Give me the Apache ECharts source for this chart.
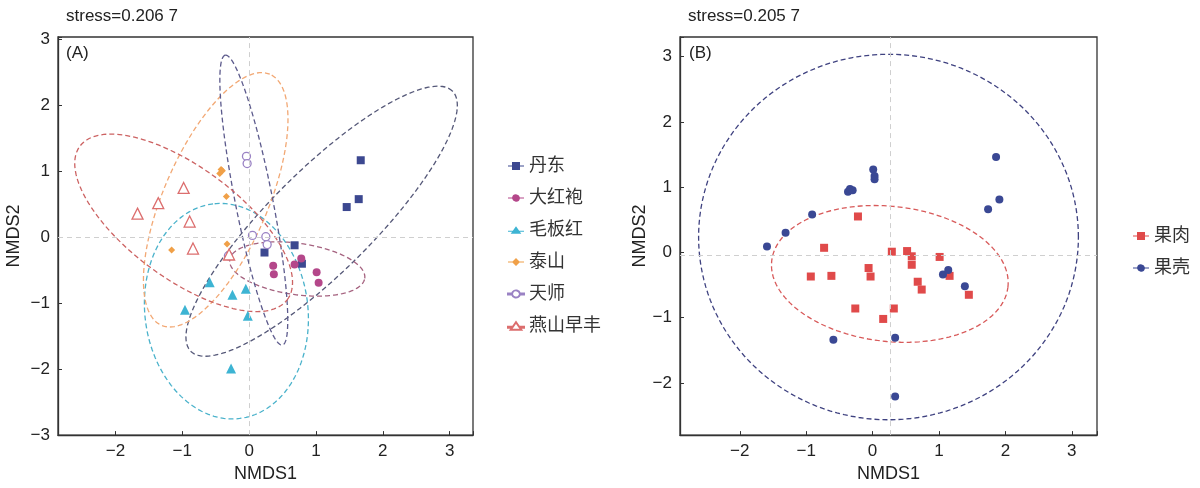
<!DOCTYPE html>
<html><head><meta charset="utf-8">
<script src="https://cdn.jsdelivr.net/npm/echarts@6/dist/echarts.min.js"></script>
<style>html,body{margin:0;padding:0;background:#fff}#c{width:1200px;height:488px}</style>
</head><body><div id="c"></div>
<script>
// ---------- Panel A: points (NMDS1, NMDS2) ----------
const groupsA = ['丹东', '大红袍', '毛板红', '泰山', '天师', '燕山早丰'];
const dandong   = [[1.67,1.17],[1.64,0.58],[1.46,0.46],[0.68,-0.12],[0.23,-0.23],[0.79,-0.40]];
const dahongpao = [[0.78,-0.32],[0.68,-0.41],[0.36,-0.43],[0.37,-0.56],[1.01,-0.53],[1.04,-0.69]];
const maobanhong= [[-0.59,-0.68],[-0.25,-0.87],[-0.05,-0.78],[-0.96,-1.10],[-0.02,-1.19],[-0.27,-1.99]];
const taishan   = [[-0.44,0.97],[-0.40,1.01],[-0.42,1.03],[-0.34,0.62],[-1.16,-0.19],[-0.33,-0.10]];
const tianshi   = [[-0.04,1.23],[-0.03,1.12],[0.05,0.03],[0.25,0.01],[0.27,-0.11],[-0.31,-0.28]];
const yanshan   = [[-0.98,0.75],[-1.36,0.52],[-1.67,0.36],[-0.89,0.24],[-0.84,-0.17],[-0.30,-0.26]];
// ellipse parameters: centre x, centre y, semi-major, semi-minor, angle (deg)
const ellA_cx  = [1.085, 0.72, -0.34, -0.50, 0.07, -0.98];
const ellA_cy  = [0.245, -0.48, -1.12, 0.57, 0.565, 0.22];
const ellA_a   = [2.78, 1.02, 1.64, 2.07, 2.24, 1.94];
const ellA_b   = [0.77, 0.39, 1.22, 0.78, 0.28, 0.84];
const ellA_ang = [45.3, -8, 97, 67, 101, -37];

// ---------- Panel B ----------
const groupsB = ['果肉', '果壳'];
const guorou = [[-0.22,0.55],[-0.73,0.07],[0.29,0.01],[0.52,0.02],[0.59,-0.06],[0.59,-0.19],[1.01,-0.07],
  [-0.06,-0.24],[-0.93,-0.37],[-0.62,-0.36],[-0.03,-0.37],[0.68,-0.45],[0.74,-0.57],[1.16,-0.36],
  [1.45,-0.65],[-0.26,-0.86],[0.32,-0.86],[0.16,-1.02]];
const guoke = [[-1.59,0.09],[-1.31,0.30],[-0.91,0.58],[-0.37,0.93],[-0.34,0.97],[-0.30,0.95],[0.01,1.27],
  [0.03,1.17],[0.03,1.12],[1.86,1.46],[1.91,0.81],[1.74,0.66],[1.06,-0.34],[1.14,-0.27],[1.39,-0.52],
  [-0.59,-1.34],[0.34,-1.31],[0.34,-2.21]];
const ellB_cx  = [0.26, 0.24];
const ellB_cy  = [-0.33, 0.235];
const ellB_a   = [1.79, 2.86];
const ellB_b   = [1.035, 2.80];
const ellB_ang = [-6.5, 0];
const refB_x = 0.26, refB_y = -0.035;

const FONT = '"Liberation Sans", Arial, "Noto Sans CJK SC", sans-serif';
const chart = echarts.init(document.getElementById('c'), null, {renderer: 'canvas'});

function tickFmt(v) {
  if (Math.abs(v - Math.round(v)) > 1e-6) return '';
  const r = Math.round(v);
  return r < 0 ? '\u2212' + Math.abs(r) : String(r);
}
function valAxis(grid, min, max, name, gap, isY) {
  return {
    type: 'value', gridIndex: grid, min: min, max: max,
    name: name, nameLocation: 'middle', nameGap: gap,
    nameTextStyle: {fontSize: 18, color: '#222', fontFamily: FONT},
    axisLine: {show: true, onZero: false, lineStyle: {color: '#333', width: 1.3}},
    axisTick: {show: true, inside: true, length: 4, lineStyle: {color: '#333'}},
    axisLabel: {formatter: tickFmt, fontSize: 17, color: '#222', fontFamily: FONT, margin: 8, showMinLabel: true, showMaxLabel: true},
    splitLine: {show: false}
  };
}
function ellipseSeries(grid, name, cx, cy, a, b, ang, color) {
  return {
    type: 'custom', name: name, xAxisIndex: grid, yAxisIndex: grid, silent: true, z: 1,
    data: [[cx, cy, a, b, ang]],
    encode: {x: 0, y: 1},
    renderItem: function (params, api) {
      const X = api.value(0), Y = api.value(1), A = api.value(2), B = api.value(3);
      const t = api.value(4) * Math.PI / 180;
      const pts = [];
      for (let i = 0; i <= 160; i++) {
        const u = i / 160 * 2 * Math.PI;
        const ex = A * Math.cos(u), ey = B * Math.sin(u);
        pts.push(api.coord([X + ex * Math.cos(t) - ey * Math.sin(t), Y + ex * Math.sin(t) + ey * Math.cos(t)]));
      }
      return {type: 'polyline', shape: {points: pts},
        style: {stroke: color, fill: null, lineWidth: 1.3, lineDash: [5, 3]}};
    }
  };
}
function scatter(grid, name, data, symbol, size, color, hollow) {
  return {
    type: 'scatter', name: name, xAxisIndex: grid, yAxisIndex: grid, z: 3,
    data: data, symbol: symbol, symbolSize: size,
    itemStyle: hollow ? {color: '#fff', borderColor: color, borderWidth: 1.3, opacity: 1}
                      : {color: color, opacity: 1},
    emphasis: {disabled: true}
  };
}
const refLine = {color: '#cfcfcf', width: 1, type: [5, 4]};

const colA = ['#3c4890', '#b4478a', '#3db4d3', '#f0a048', '#9a82c4', '#dc6e6e'];
const ellColA = ['#555878', '#a5627f', '#4ab2cb', '#f2a874', '#5c5a8c', '#cc6262'];
const symA = ['rect', 'circle', 'triangle', 'diamond', 'circle', 'triangle'];
const sizeA = [8, 8, 10, 7, 8, 11];
const dataA = [dandong, dahongpao, maobanhong, taishan, tianshi, yanshan];
const hollowA = [false, false, false, false, true, true];

const ICON_SQ = 'path://M0,3.5H4V0H12V3.5H16V4.5H12V8H4V4.5H0Z';
const ICON_CI = 'path://M0,3.5H4.1A4,4 0 0 1 11.9,3.5H16V4.5H11.9A4,4 0 0 1 4.1,4.5H0Z';
const ICON_TR = 'path://M0,5H4.82L8,0.5L11.18,5H16V6H11.89L13.3,8H2.7L4.11,6H0Z';
const ICON_DI = 'path://M0,3.5H4.5L8,0L11.5,3.5H16V4.5H11.5L8,8L4.5,4.5H0Z';
const iconsA = [ICON_SQ, ICON_CI, ICON_TR, ICON_DI, ICON_CI, ICON_TR];

const series = [];
for (let i = 0; i < groupsA.length; i++) {
  series.push(ellipseSeries(0, 'ellA' + i, ellA_cx[i], ellA_cy[i], ellA_a[i], ellA_b[i], ellA_ang[i], ellColA[i]));
}
for (let i = 0; i < groupsA.length; i++) {
  series.push(scatter(0, groupsA[i], dataA[i], symA[i], sizeA[i], colA[i], hollowA[i]));
}
series[0].markLine = {silent: true, symbol: 'none', label: {show: false}, lineStyle: refLine, animation: false,
  data: [{xAxis: 0}, {yAxis: 0}]};

const colB = ['#e04a4a', '#3a4894'];
const ellColB = ['#d85a5a', '#3f4280'];
series.push(ellipseSeries(1, 'ellB0', ellB_cx[0], ellB_cy[0], ellB_a[0], ellB_b[0], ellB_ang[0], ellColB[0]));
series.push(ellipseSeries(1, 'ellB1', ellB_cx[1], ellB_cy[1], ellB_a[1], ellB_b[1], ellB_ang[1], ellColB[1]));
series[series.length - 1].markLine = {silent: true, symbol: 'none', label: {show: false}, lineStyle: refLine, animation: false,
  data: [{xAxis: refB_x}, {yAxis: refB_y}]};
series.push(scatter(1, groupsB[0], guorou, 'rect', 8, colB[0], false));
series.push(scatter(1, groupsB[1], guoke, 'circle', 8, colB[1], false));

chart.setOption({
  animation: false,
  backgroundColor: '#fff',
  grid: [
    {left: 58, top: 37, width: 415, height: 405, show: true, borderColor: '#333', borderWidth: 1.3, backgroundColor: '#fff'},
    {left: 680, top: 37, width: 417, height: 405, show: true, borderColor: '#333', borderWidth: 1.3, backgroundColor: '#fff'}
  ],
  xAxis: [valAxis(0, -2.86, 3.35, 'NMDS1', 27, false), valAxis(1, -2.90, 3.38, 'NMDS1', 27, false)],
  yAxis: [valAxis(0, -3.0, 3.04, 'NMDS2', 35, true), valAxis(1, -2.80, 3.30, 'NMDS2', 31, true)],
  legend: [
    {orient: 'vertical', left: 502, top: 152, itemWidth: 16, itemHeight: 8, itemGap: 14,
     textStyle: {fontSize: 18, color: '#333', fontFamily: FONT},
     data: groupsA.map((g, i) => ({name: g, icon: iconsA[i]})), selectedMode: false},
    {orient: 'vertical', left: 1128, top: 222, itemWidth: 16, itemHeight: 8, itemGap: 14,
     textStyle: {fontSize: 18, color: '#333', fontFamily: FONT},
     data: [{name: groupsB[0], icon: ICON_SQ}, {name: groupsB[1], icon: ICON_CI}], selectedMode: false}
  ],
  graphic: [
    {type: 'text', left: 66, top: 8, style: {text: 'stress=0.206 7', font: '17px ' + FONT, fill: '#222'}},
    {type: 'text', left: 688, top: 8, style: {text: 'stress=0.205 7', font: '17px ' + FONT, fill: '#222'}},
    {type: 'text', left: 66, top: 45, z: 10, style: {text: '(A)', font: '17px ' + FONT, fill: '#222'}},
    {type: 'text', left: 689, top: 45, z: 10, style: {text: '(B)', font: '17px ' + FONT, fill: '#222'}}
  ],
  series: series
});
</script></body></html>
